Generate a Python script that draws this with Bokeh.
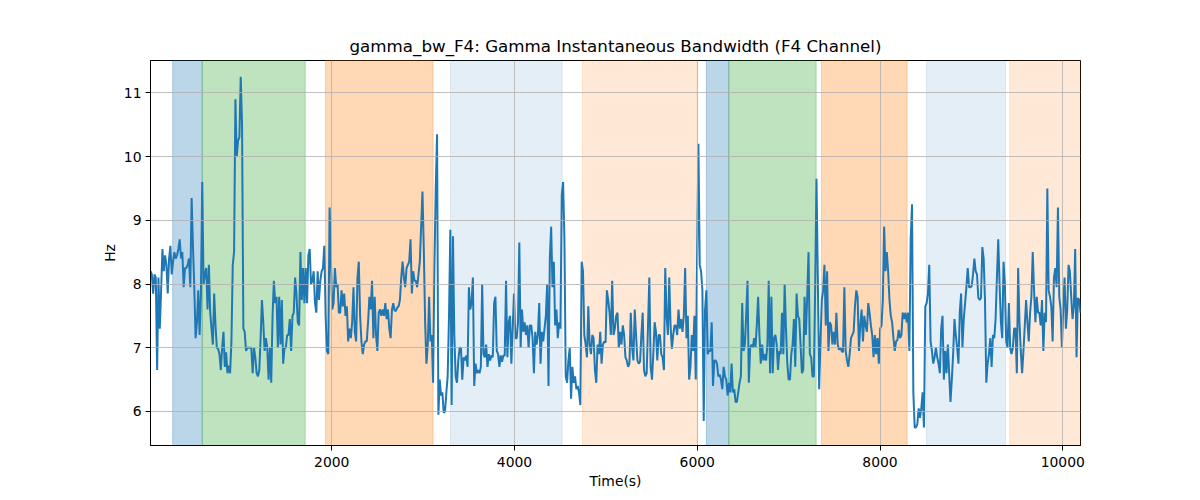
import numpy as np
from bokeh.plotting import figure
from bokeh.models import Range1d, BoxAnnotation, FixedTicker
from bokeh.embed import file_html
from bokeh.resources import INLINE

# ---------------- data ----------------
title_text = "gamma_bw_F4: Gamma Instantaneous Bandwidth (F4 Channel)"
x_label = "Time(s)"
y_label = "Hz"

t_first = 16.0      # first sample time (s)
t_last = 10194.0    # last sample time (s)

seg1 = [8.2, 8.15, 7.85, 8.15, 8.1, 6.65, 8.1, 7.3, 7.9, 8.55,
        8.2, 8.45, 8.3, 7.85, 8.4, 8.6, 8.15, 8.35, 8.5, 8.4,
        8.45, 8.55, 8.7, 8.4, 8.5, 7.95, 8.25, 8.25, 8.3, 8.4,
        7.95, 9.35, 8.6, 7.95, 7.15, 7.4, 7.9, 7.2, 7.85, 9.6,
        8.0, 8.15, 8.25, 7.6, 8.3, 7.55, 7.3, 7.05, 7.85, 7.35,
        7.0, 6.98, 6.9, 6.65, 7.0, 7.25, 6.7, 6.93, 6.6, 6.72,
        6.6, 7.1, 8.3, 8.5, 10.9, 10.0, 10.25, 10.3, 11.25, 10.5,
        7.3, 7.25, 6.95, 7.0, 7.0, 7.0, 7.0, 6.6, 7.0, 6.85,
        6.6, 6.55, 6.65, 7.15, 7.75, 7.4, 6.95, 7.15, 7.0, 6.5,
        7.0, 6.45, 7.5, 8.05, 7.7, 7.8, 7.0, 7.8, 7.05, 7.75,
        6.75, 7.0, 7.0, 7.2, 7.2, 7.45, 6.95, 7.5, 7.55, 8.1,
        7.85, 7.4, 7.35, 8.5, 7.75, 8.25, 7.7]
seg2 = [8.25, 7.7, 8.45, 8.55, 8.0, 8.05, 8.2, 7.7, 7.55, 8.2,
        7.75, 8.05, 8.2, 8.25, 8.6, 7.5, 6.95, 6.9, 9.2, 8.35,
        7.6, 7.7, 8.25, 7.95, 8.0, 7.55, 7.55, 7.9, 7.65, 7.85,
        7.5, 7.65, 7.1, 7.3, 7.15, 7.4, 7.95, 7.25, 7.1, 8.1,
        8.35, 7.5, 7.1, 6.9, 7.05, 7.1, 7.1, 7.4, 7.8, 7.6,
        8.05, 7.15, 7.8, 7.2, 6.95, 7.55, 7.6, 7.5, 7.6, 7.5,
        7.7, 7.45, 7.6, 7.3, 7.15, 7.6, 7.7, 7.58, 7.58, 7.63,
        7.65, 7.75, 8.1, 8.35, 8.1, 7.95, 8.25, 8.3, 8.35, 8.7,
        7.85, 8.2, 8.05, 8.05, 7.95, 8.15, 8.35, 8.9, 9.45, 8.55,
        7.4, 6.75, 7.05, 7.8, 7.1, 7.2, 6.45, 8.25, 9.5, 10.35,
        5.95, 6.5, 6.25, 6.3, 5.98, 6.0, 6.3, 6.55, 7.5, 8.85,
        6.1, 8.75, 7.2, 6.55, 6.45, 6.8, 7.0]
seg3 = [7.0, 6.5, 6.85, 6.8, 6.88, 6.7, 7.95, 7.6, 7.7, 8.1,
        6.4, 6.75, 6.6, 6.65, 6.6, 6.7, 8.0, 6.9, 6.85, 7.05,
        6.7, 6.9, 6.8, 6.88, 6.85, 7.7, 7.8, 6.95, 6.9, 6.7,
        6.88, 6.78, 6.88, 6.88, 8.05, 6.85, 7.4, 7.5, 6.75, 7.3,
        7.85, 7.15, 7.15, 7.4, 8.65, 7.0, 7.6, 7.25, 7.4, 7.2,
        7.35, 7.0, 7.35, 7.35, 7.15, 6.6, 7.25, 7.05, 7.2, 7.7,
        6.75, 7.25, 7.1, 7.3, 7.5, 8.0, 6.4, 8.4, 8.9, 7.95,
        8.35, 7.35, 7.6, 7.15, 7.4, 7.3, 9.4, 9.6, 8.7, 6.55,
        6.45, 6.8, 7.0, 6.2, 6.7, 6.45, 6.55, 6.35, 6.4, 6.3,
        6.1, 8.35, 8.2, 7.2, 7.05, 6.85, 7.65, 7.05, 6.9, 7.2,
        7.15, 6.65, 6.45, 7.05, 6.9, 7.25, 6.75, 7.05, 7.1, 7.08,
        7.9, 7.75, 7.55, 7.2, 8.05, 7.2, 7.3]
seg4 = [7.5, 7.55, 7.0, 7.25, 7.05, 7.35, 7.2, 6.85, 6.8, 6.7,
        6.75, 7.55, 7.0, 6.8, 7.6, 7.2, 6.8, 6.75, 6.78, 7.2,
        7.55, 6.65, 6.55, 6.6, 7.35, 8.1, 6.7, 6.5, 6.9, 7.4,
        7.25, 6.8, 7.2, 7.2, 6.9, 6.85, 6.65, 8.25, 7.5, 7.2,
        8.1, 7.35, 6.98, 7.2, 7.35, 7.35, 7.2, 7.6, 7.3, 7.45,
        7.25, 7.5, 8.25, 7.15, 7.5, 6.5, 6.7, 7.2, 6.95, 7.5,
        6.5, 8.4, 10.2, 8.3, 8.2, 7.9, 5.85, 7.6, 7.9, 6.9,
        6.95, 6.95, 7.4, 6.4, 6.8, 6.8, 6.75, 6.55, 6.58, 6.5,
        6.35, 6.7, 6.55, 6.5, 6.25, 6.45, 6.3, 6.75, 6.3, 6.35,
        6.15, 6.15, 6.3, 6.45, 6.55, 7.7, 6.95, 7.05, 7.5, 8.05,
        6.45, 7.0, 7.05, 7.0, 7.15, 7.0, 7.35, 7.8, 7.2, 6.75,
        7.05, 6.8, 6.9, 6.8, 7.05, 8.05, 6.6]
seg5 = [7.8, 6.6, 7.15, 7.2, 7.05, 6.65, 6.95, 6.9, 7.55, 6.9,
        8.0, 7.3, 6.75, 6.5, 6.5, 6.9, 7.05, 7.45, 6.7, 7.85,
        7.5, 7.45, 7.05, 6.6, 6.65, 7.8, 7.2, 7.8, 8.5, 6.9,
        6.85, 6.55, 6.55, 7.95, 9.65, 8.1, 6.35, 7.1, 7.75, 7.9,
        8.3, 7.35, 8.2, 6.95, 7.4, 7.35, 7.05, 7.25, 7.05, 7.55,
        7.05, 6.97, 7.0, 6.95, 6.93, 7.95, 6.95, 6.8, 6.7, 6.9,
        7.15, 7.2, 7.25, 7.65, 7.9, 7.8, 6.95, 7.35, 7.6, 7.1,
        7.5, 7.35, 7.25, 7.7, 7.55, 7.35, 7.2, 6.85, 7.2, 6.9,
        7.15, 6.75, 7.3, 7.35, 7.75, 8.9, 8.2, 8.5, 8.2, 7.75,
        7.5, 7.4, 7.15, 6.95, 7.1, 7.12, 7.28, 7.15, 7.2, 7.55,
        7.45, 7.55, 7.4, 7.55, 6.95, 8.7, 9.25, 6.3, 5.75, 5.75,
        5.8, 6.05, 5.9, 6.05, 6.3, 5.75, 7.65]
seg6 = [7.7, 7.85, 8.3, 7.1, 6.95, 6.75, 6.85, 7.0, 6.85, 6.75,
        6.6, 7.3, 7.5, 6.5, 6.95, 6.6, 7.05, 6.6, 6.15, 6.5,
        6.9, 7.45, 7.2, 7.0, 6.75, 7.55, 7.85, 7.0, 7.45, 7.7,
        7.95, 8.25, 7.95, 7.95, 7.97, 8.15, 8.4, 8.2, 8.15, 7.78,
        7.75, 7.78, 8.58, 8.4, 7.75, 6.45, 6.75, 6.9, 7.15, 6.7,
        7.2, 7.15, 7.45, 8.1, 8.7, 8.0, 7.4, 7.15, 8.35, 8.0,
        7.1, 7.0, 7.7, 7.0, 6.9, 7.0, 7.3, 7.3, 6.6, 8.25,
        7.4, 6.95, 6.6, 6.95, 7.35, 7.75, 7.4, 7.1, 7.55, 7.8,
        8.5, 7.9, 7.4, 7.8, 7.55, 7.55, 7.35, 7.75, 6.95, 7.55,
        7.4, 9.5, 7.9, 7.8, 7.65, 7.1, 8.1, 8.25, 7.95, 9.2,
        7.8, 7.6, 7.0, 7.65, 8.1, 7.3, 7.6, 8.3, 8.2, 7.8,
        7.45, 7.65, 8.55, 6.85, 7.78, 7.75, 7.55]

# shaded stage intervals (s)
span_start = [259, 582, 1931, 3298, 4744, 6100, 6345, 7359, 8509, 9420]
span_end = [582, 1709, 3109, 4521, 5999, 6345, 7301, 8297, 9373, 10194]
span_color = ["#1f77b4", "#2ca02c", "#ff7f0e", "#1f77b4", "#ff7f0e",
              "#1f77b4", "#2ca02c", "#ff7f0e", "#1f77b4", "#ff7f0e"]
span_alpha = [0.3, 0.3, 0.3, 0.12, 0.17, 0.3, 0.3, 0.3, 0.12, 0.17]

x_ticks = [2000, 4000, 6000, 8000, 10000]
y_ticks = [6, 7, 8, 9, 10, 11]
y_min, y_max = 5.466, 11.507

# ---------------- figure ----------------
values = np.array(seg1 + seg2 + seg3 + seg4 + seg5 + seg6)
times = np.linspace(t_first, t_last, len(values))

FONT = "DejaVu Sans"

p = figure(frame_width=930, frame_height=385,
           min_border_left=150, min_border_right=104,
           min_border_top=60, min_border_bottom=39,
           x_range=Range1d(t_first, t_last), y_range=Range1d(y_min, y_max),
           output_backend="svg", toolbar_location=None, title=title_text)

p.title.align = "center"
p.title.text_font = FONT
p.title.text_font_size = "16.7px"
p.title.text_font_style = "normal"
p.title.text_color = "black"

for s, e, c, a in zip(span_start, span_end, span_color, span_alpha):
    p.add_layout(BoxAnnotation(left=s, right=e, fill_color=c, fill_alpha=a,
                               line_color=c, line_alpha=a, line_width=1,
                               level="underlay"))

p.line(times, values, line_color="#1f77b4", line_width=2)

for ax in (p.xaxis, p.yaxis):
    ax.axis_label_text_font = FONT
    ax.axis_label_text_font_size = "13.9px"
    ax.axis_label_text_font_style = "normal"
    ax.axis_label_text_color = "black"
    ax.major_label_text_font = FONT
    ax.major_label_text_font_size = "13.9px"
    ax.major_label_text_color = "black"
    ax.major_tick_in = 0
    ax.major_tick_out = 5
    ax.minor_tick_line_color = None
    ax.axis_line_color = "black"
    ax.major_tick_line_color = "black"

p.xaxis.axis_label = x_label
p.yaxis.axis_label = y_label
p.xaxis.ticker = FixedTicker(ticks=x_ticks)
p.yaxis.ticker = FixedTicker(ticks=y_ticks)
p.xaxis.major_label_standoff = 6
p.yaxis.major_label_standoff = 4
p.xaxis.axis_label_standoff = 3
p.yaxis.axis_label_standoff = 3

for g in (p.xgrid, p.ygrid):
    g.grid_line_color = "#b0b0b0"
    g.grid_line_width = 0.8
    g.grid_line_alpha = 1.0
    g.level = "glyph"
p.xgrid.ticker = FixedTicker(ticks=x_ticks)
p.ygrid.ticker = FixedTicker(ticks=y_ticks)

p.outline_line_color = "black"
p.outline_line_width = 1
p.outline_line_alpha = 1.0
p.background_fill_color = "white"
p.border_fill_color = "white"

open("out.html", "w").write(file_html(p, INLINE))
